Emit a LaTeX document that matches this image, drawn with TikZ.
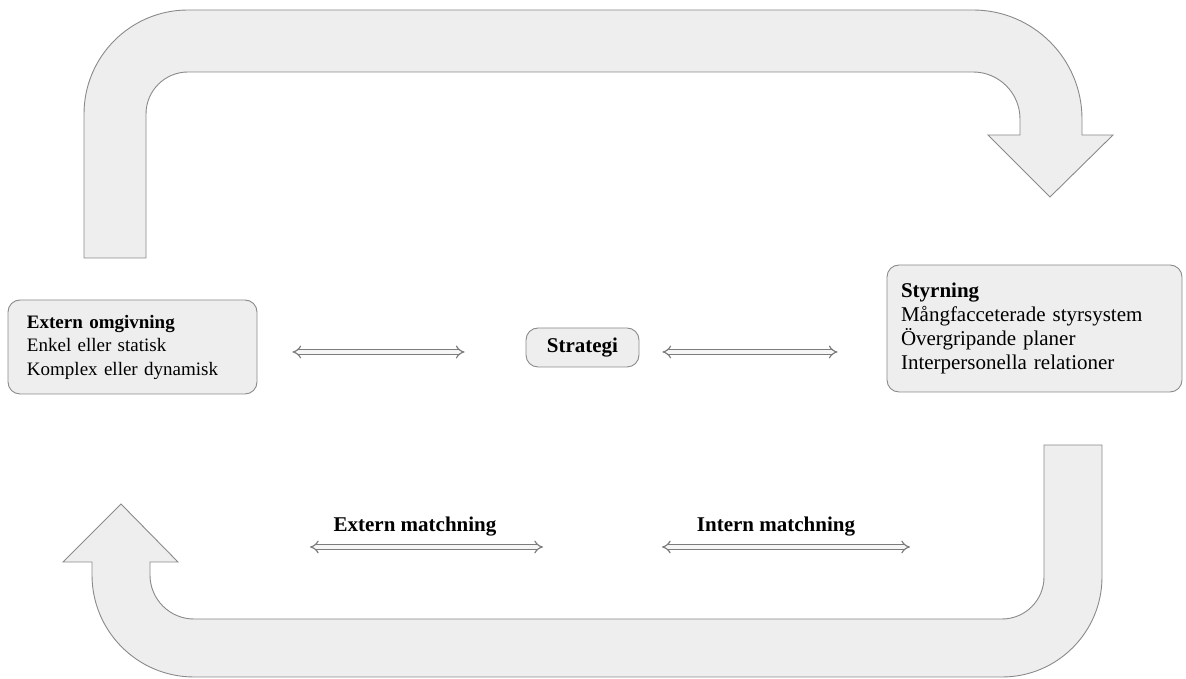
\documentclass[tikz,border=0pt]{standalone}
\usepackage{fontspec}
\setmainfont{Liberation Serif}
\usetikzlibrary{positioning,calc,arrows,arrows.meta}
\definecolor{shapefill}{HTML}{EEEEEE}
\definecolor{shapeline}{HTML}{8A8A8A}
\tikzset{font=\fontsize{21pt}{23.7pt}\selectfont}

\begin{document}
\begin{tikzpicture}[x=1pt, y=1pt]
	\useasboundingbox (0,0) rectangle (1186,679);
	\tikzstyle{every node}=[inner sep=1pt]
	\tikzstyle{box}=[draw=shapeline, fill=shapefill, line width=0.9pt, rounded corners=12pt, align=left]
	\tikzstyle{bigarrow}=[draw=shapeline, fill=shapefill, line width=0.9pt]
	\tikzstyle{dblarrow}=[draw=shapeline!90!black, line width=1.2pt, double=shapefill!50, double distance=3.2pt, {Implies}-{Implies}]

	% the two bent arrows round the diagram
	\path[bigarrow] (84,421) -- (84,565) arc[start angle=180, end angle=90, radius=104]
		-- (973,669) arc[start angle=90, end angle=0, radius=109]
		-- (1082,544) -- (1113,544) -- (1050,482) -- (988,544) -- (1020,544)
		-- (1020,560) arc[start angle=0, end angle=90, radius=47]
		-- (188,607) arc[start angle=90, end angle=180, radius=42]
		-- (146,421) -- cycle;
	\path[bigarrow] (1044,234) -- (1102,234) -- (1102,102) arc[start angle=0, end angle=-90, radius=100]
		-- (194,2) arc[start angle=270, end angle=180, radius=102]
		-- (92,117) -- (63,117) -- (121,175) -- (178,117) -- (150,117)
		-- (150,104) arc[start angle=180, end angle=270, radius=44]
		-- (1002,60) arc[start angle=270, end angle=360, radius=42]
		-- cycle;

	\node[box, font=\fontsize{19pt}{23.5pt}\selectfont, text width=211pt, inner xsep=19pt, minimum height=94pt] (ext) at (132.5,332)
		{\textbf{Extern omgivning}\\Enkel eller statisk\\Komplex eller dynamisk};
	\node[box, minimum width=113pt, minimum height=39pt, align=center] (strat) at (582.5,331.5)
		{\textbf{Strategi}};
	\node[box, text width=267pt, inner xsep=14pt, minimum height=127pt] (sty) at (1034.5,350.5)
		{\textbf{Styrning}\\Mångfacceterade styrsystem\\Övergripande planer\\Interpersonella relationer};

	\node (extm) at (415,152) {\textbf{Extern matchning}};
	\node (intm) at (776,152) {\textbf{Intern matchning}};
	\coordinate (extm-l) at (310,132);
	\coordinate (extm-r) at (543,132);
	\coordinate (intm-l) at (662,132);
	\coordinate (intm-r) at (910,132);

	\draw[dblarrow] ([xshift=35pt,yshift=-5pt]ext.east) -- ([xshift=-61pt,yshift=-4.5pt]strat.west);
	\draw[dblarrow] ([xshift=23pt,yshift=-4.5pt]strat.east) -- ([xshift=-49pt,yshift=-23.5pt]sty.west);
	\draw[dblarrow] (extm-l) -- (extm-r);
	\draw[dblarrow] (intm-l) -- (intm-r);
\end{tikzpicture}
\end{document}
